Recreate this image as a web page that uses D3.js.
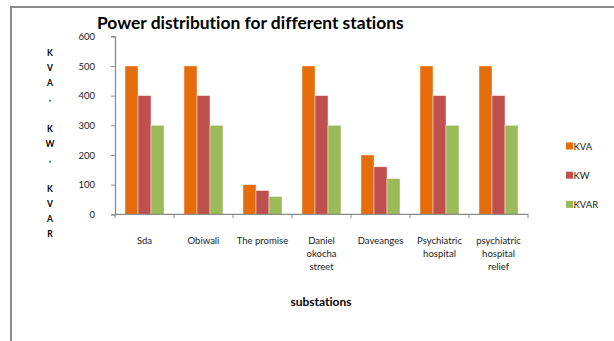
<!DOCTYPE html>
<html>
<head>
<meta charset="utf-8">
<script src="https://cdn.jsdelivr.net/npm/d3@7"></script>
<style>
  html, body { margin: 0; padding: 0; background: #fff; }
  svg { display: block; font-family: "Lato", "Open Sans", sans-serif; font-variant-ligatures: none; }
</style>
</head>
<body>
<svg id="chart" width="614" height="341"></svg>
<script>
// Substations and the three power quantities measured at each
const categories = [
  ["Sda"],
  ["Obiwali"],
  ["The promise"],
  ["Daniel", "okocha", "street"],
  ["Daveanges"],
  ["Psychiatric", "hospital"],
  ["psychiatric", "hospital", "relief"]
];
const seriesNames = ["KVA", "KW", "KVAR"];
const kva  = [500, 500, 100, 500, 200, 500, 500];
const kw   = [400, 400, 80, 400, 160, 400, 400];
const kvar = [300, 300, 60, 300, 120, 300, 300];
const yTicks = [0, 100, 200, 300, 400, 500, 600];
const colors = ["#E46C0A", "#C0504D", "#9BBB59"];
const yTitleLines = ["K", "V", "A", ",", "", "K", "W", ",", "", "K", "V", "A", "R"];

const values = [kva, kw, kvar];
const svg = d3.select("#chart");

// outer chart frame
svg.append("rect")
  .attr("x", 11).attr("y", 7).attr("width", 700).attr("height", 400)
  .attr("fill", "#fff").attr("stroke", "#8c8c8c").attr("stroke-width", 2);

const plotLeft = 115, plotRight = 528, plotTop = 36.3, plotBottom = 214.3;
const catIdx = categories.map((d, i) => i);

const x0 = d3.scaleBand().domain(catIdx).range([plotLeft, plotRight]).paddingInner(0).paddingOuter(0);
const x1 = d3.scaleBand().domain(seriesNames).range([0, x0.bandwidth()]).paddingInner(0).paddingOuter(0.77);
const y = d3.scaleLinear().domain([0, 600]).range([plotBottom, plotTop]);

// bars
const groups = svg.append("g").selectAll("g").data(catIdx).join("g")
  .attr("transform", i => `translate(${x0(i)},0)`);
groups.selectAll("rect")
  .data(i => seriesNames.map((s, k) => ({ s, k, v: values[k][i] })))
  .join("rect")
  .attr("x", d => x1(d.s))
  .attr("width", x1.bandwidth())
  .attr("y", d => y(d.v))
  .attr("height", d => y(0) - y(d.v))
  .attr("fill", d => colors[d.k])
  .attr("stroke", "#fbe9e2").attr("stroke-width", 0.5);

// y axis
const yAxis = svg.append("g").attr("transform", `translate(${plotLeft},0)`)
  .call(d3.axisLeft(y).tickValues(yTicks).tickSize(4).tickPadding(16));
yAxis.select(".domain").attr("stroke", "#8c8c8c").attr("stroke-width", 1.3);
yAxis.selectAll(".tick line").attr("stroke", "#8c8c8c");
yAxis.selectAll(".tick text").attr("font-size", 9.5).attr("fill", "#222")
  .attr("font-family", "Lato, sans-serif");

// x axis: ticks at the category boundaries
const xAxisG = svg.append("g").attr("transform", `translate(0,${plotBottom})`);
xAxisG.append("line").attr("x1", plotLeft).attr("x2", plotRight + 0.5)
  .attr("stroke", "#8c8c8c").attr("stroke-width", 1.3);
const bounds = catIdx.map(i => x0(i)).concat([plotRight]);
xAxisG.selectAll("line.tk").data(bounds).join("line").attr("class", "tk")
  .attr("x1", d => d).attr("x2", d => d).attr("y1", 0).attr("y2", 4)
  .attr("stroke", "#8c8c8c").attr("stroke-width", 1);

// category labels
const lab = svg.append("g").selectAll("text").data(catIdx).join("text")
  .attr("x", i => x0(i) + x0.bandwidth() / 2)
  .attr("y", 244)
  .attr("text-anchor", "middle")
  .attr("font-size", 9.5).attr("fill", "#222");
lab.selectAll("tspan").data(i => categories[i]).join("tspan")
  .attr("x", function () { return d3.select(this.parentNode).attr("x"); })
  .attr("dy", (d, j) => j === 0 ? 0 : 13)
  .text(d => d);

// chart title
svg.append("text").attr("x", 97).attr("y", 29)
  .attr("font-size", 17.4).attr("font-weight", "bold").attr("fill", "#000")
  .text("Power distribution for different stations");

// y axis title, one character per line
svg.append("g").selectAll("text").data(yTitleLines).join("text")
  .attr("x", 50).attr("y", (d, i) => 56 + i * 15.1)
  .attr("text-anchor", "middle")
  .attr("font-size", 8.5).attr("font-weight", "bold").attr("fill", "#000")
  .text(d => d);

// x axis title
svg.append("text").attr("x", 321).attr("y", 306)
  .attr("text-anchor", "middle")
  .attr("font-size", 12).attr("font-weight", "bold").attr("fill", "#000")
  .text("substations");

// legend
const leg = svg.append("g").selectAll("g").data(seriesNames).join("g")
  .attr("transform", (d, i) => `translate(566,${146 + i * 29.2})`);
leg.append("rect").attr("x", 0).attr("y", -3.5).attr("width", 7).attr("height", 7)
  .attr("fill", (d, i) => colors[i]);
leg.append("text").attr("x", 7.5).attr("y", 3.5)
  .attr("font-size", 9.5).attr("fill", "#222").text(d => d);
</script>
</body>
</html>
